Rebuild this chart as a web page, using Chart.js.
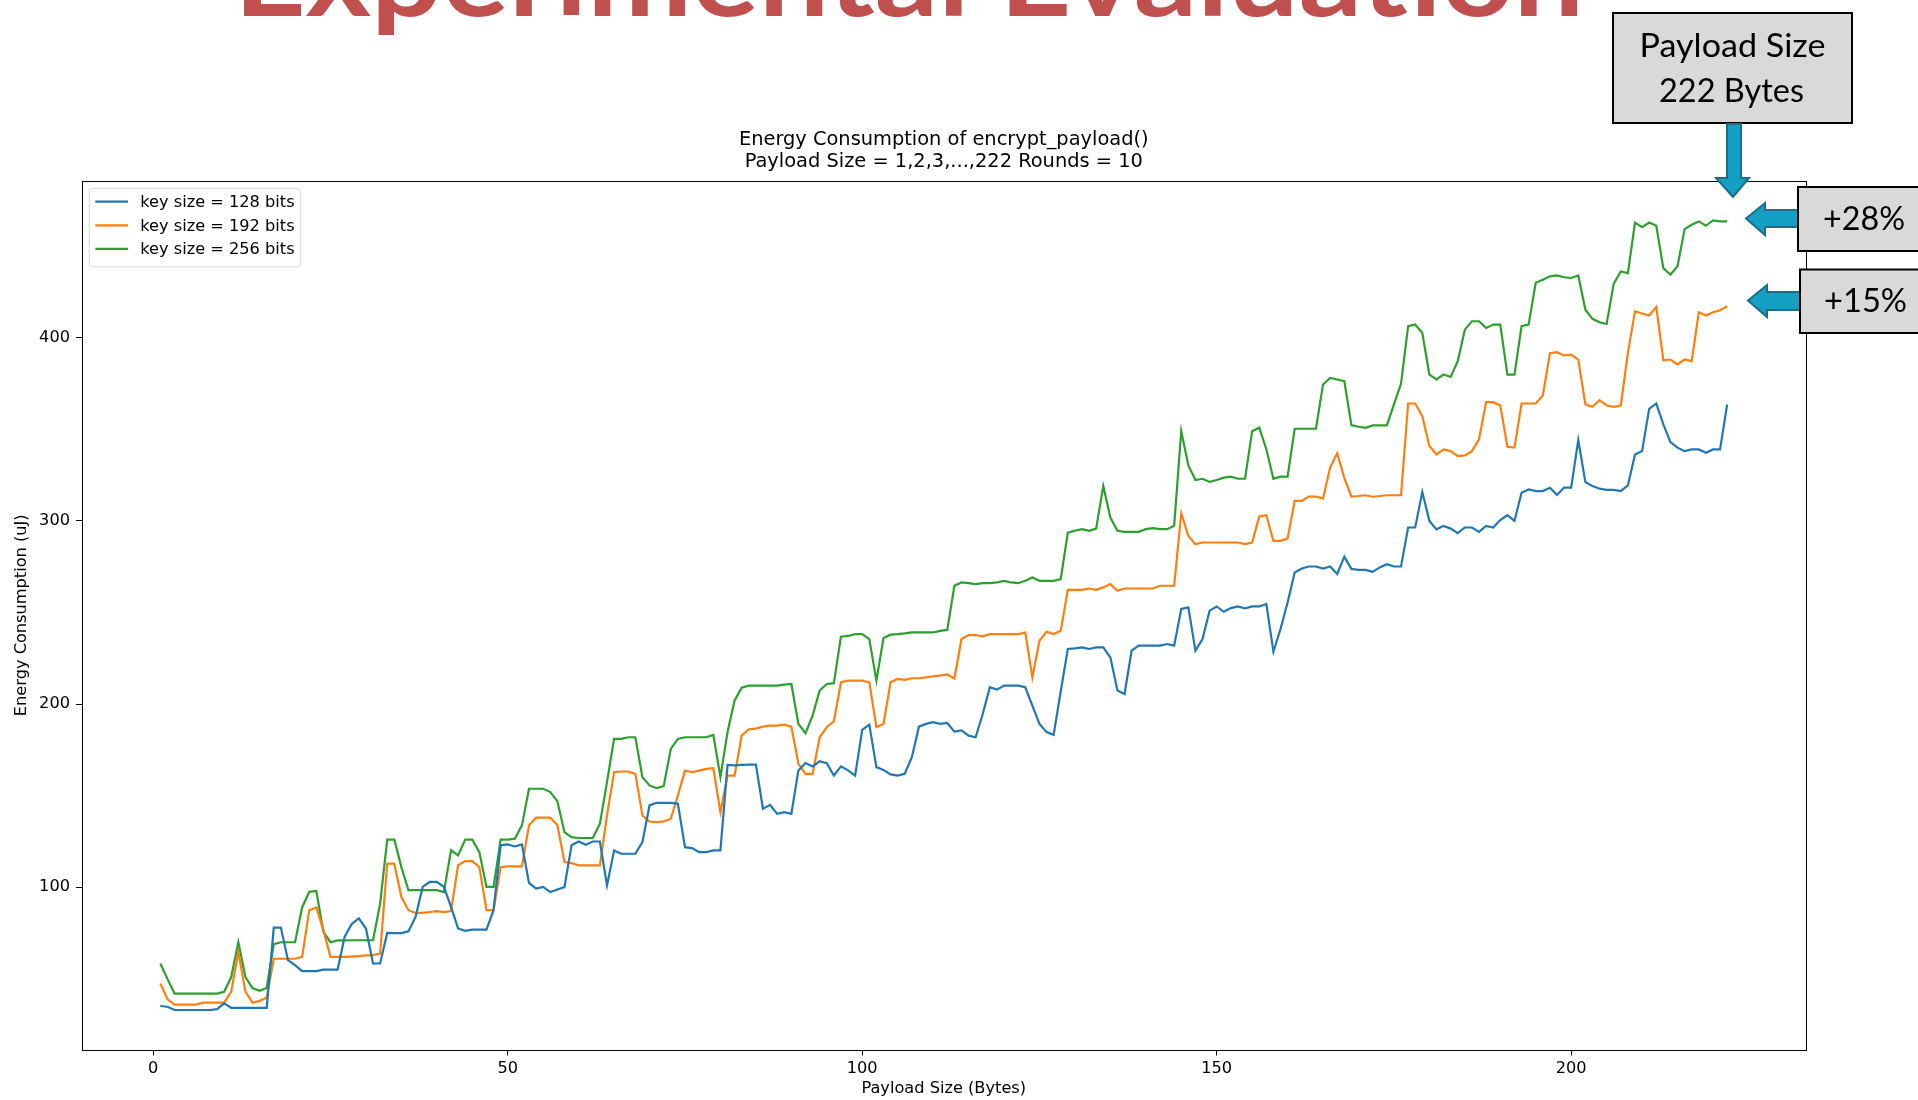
<!DOCTYPE html>
<html>
<head>
<meta charset="utf-8">
<script src="https://cdn.jsdelivr.net/npm/chart.js@4.4.0/dist/chart.umd.min.js"></script>
<style>
  html, body { margin: 0; padding: 0; background: #fff; }
  #wrap { position: relative; width: 1918px; height: 1100px; overflow: hidden; background: #fff; }
  #c { position: absolute; left: 0; top: 0; }
  #overlay { position: absolute; left: 0; top: 0; }
</style>
</head>
<body>
<div id="wrap">
  <canvas id="c" width="1918" height="1100"></canvas>
  <svg id="overlay" width="1918" height="1100" xmlns="http://www.w3.org/2000/svg">
    <text x="234" y="16" textLength="1350" lengthAdjust="spacingAndGlyphs" font-family="Lato" font-weight="bold" font-size="112" fill="#C0504D">Experimental Evaluation</text>
    <!-- Payload box -->
    <rect x="1613" y="13" width="239" height="110" fill="#D9D9D9" stroke="#000" stroke-width="2"/>
    <text x="1732.5" y="57" text-anchor="middle" font-family="Lato" font-size="33" fill="#000" textLength="186" lengthAdjust="spacingAndGlyphs">Payload Size</text>
    <text x="1731.5" y="102" text-anchor="middle" font-family="Lato" font-size="33" fill="#000" textLength="145" lengthAdjust="spacingAndGlyphs">222 Bytes</text>
    <!-- down arrow -->
    <polygon points="1727,124 1741,124 1741,178 1749,178 1733,197 1716,178 1727,178" fill="#13A0C4" stroke="#1A6F86" stroke-width="2"/>
    <!-- +28% -->
    <polygon points="1798,210 1765,210 1765,203 1746,218.5 1765,235 1765,227 1798,227" fill="#13A0C4" stroke="#1A6F86" stroke-width="2"/>
    <rect x="1798" y="187" width="130" height="64" fill="#D9D9D9" stroke="#000" stroke-width="2"/>
    <text x="1864" y="230" text-anchor="middle" font-family="Lato" font-size="32" fill="#000" textLength="82" lengthAdjust="spacingAndGlyphs">+28%</text>
    <!-- +15% -->
    <polygon points="1800,292 1767,292 1767,285 1748,300.5 1767,317 1767,310 1800,310" fill="#13A0C4" stroke="#1A6F86" stroke-width="2"/>
    <rect x="1800" y="269.5" width="130" height="63.5" fill="#D9D9D9" stroke="#000" stroke-width="2"/>
    <text x="1865.5" y="312" text-anchor="middle" font-family="Lato" font-size="32" fill="#000" textLength="83" lengthAdjust="spacingAndGlyphs">+15%</text>
  </svg>
</div>
<script>
const payloadSize = Array.from({length: 222}, (_, i) => i + 1);

const key128 = [
  35.2, 34.8, 33, 33, 33, 33, 33, 33, 33.5, 36.6,
  34.2, 34.2, 34.2, 34.2, 34.2, 34.2, 78, 78, 60.2, 57.5,
  54.2, 54.2, 54.2, 55, 55, 55, 73, 80, 83, 77.5,
  58.4, 58.4, 75.1, 75, 75, 76, 83.8, 100.2, 102.9, 102.9,
  100.2, 89.3, 77.5, 76.2, 76.9, 76.9, 76.9, 87.5, 122.9, 123.4,
  122.3, 123.4, 102.4, 99.3, 100.2, 97.4, 98.8, 100.1, 122.9, 125,
  123.2, 125, 125, 101, 120.1, 118.3, 118.3, 118.3, 124.7, 144.7,
  146.1, 146.1, 146.1, 145.6, 121.9, 121.4, 119.2, 119.2, 120.1, 120.1,
  166.8, 166.5, 166.8, 167, 167, 142.9, 145, 140.1, 141, 140.1,
  163.8, 167.8, 166, 168.8, 167.8, 161, 166, 163.8, 161, 185.9,
  188.8, 165.6, 164.1, 161.6, 161, 162, 171, 187.7, 189.2, 190.1,
  189.2, 189.7, 185, 185.6, 182.8, 181.9, 194.6, 209.2, 207.9, 210.1,
  210.1, 210.1, 209.2, 199.2, 189.2, 184.7, 183.2, 207, 230.1, 230.4,
  231, 230.1, 231, 231, 225.5, 207.4, 205.5, 229.2, 231.9, 231.9,
  231.9, 231.9, 232.8, 231.9, 251.9, 252.8, 229.2, 235.5, 251, 253.3,
  250.4, 252.4, 253.3, 252.2, 253.3, 253.3, 254.6, 228.6, 241, 255.5,
  271.8, 274, 275.1, 275.1, 274, 275.1, 271, 280.5, 273.8, 273.3,
  273.3, 272.2, 274.6, 276.4, 275.1, 275.1, 296.4, 296.4, 315.8, 300,
  295.4, 297.3, 295.8, 293.3, 296.4, 296.4, 294, 297.3, 296.4, 300.5,
  303.1, 300, 315.4, 317.2, 316.3, 316.3, 318.1, 314.2, 318.2, 318.2,
  344.1, 321.2, 319, 317.6, 316.9, 316.9, 316.3, 319.4, 336.3, 338.1,
  361.2, 364.1, 352.7, 343, 340, 338.1, 339, 339, 337.2, 339,
  339, 363.6
];

const key192 = [
  47.5, 39, 36, 36, 36, 36, 37, 37, 37, 37,
  43, 64.8, 43, 37, 38, 39.7, 61, 61, 61, 61,
  62, 87.5, 89, 76.6, 62, 62, 62, 62.2, 62.4, 62.8,
  63, 63.8, 112.9, 112.9, 94.7, 87.5, 86, 86, 86.5, 87,
  86.5, 87, 112, 114.3, 114.3, 111, 87.5, 87.5, 111, 111.4,
  111.4, 111.4, 133.8, 138, 138, 138, 134, 113.8, 113.2, 112,
  112, 112, 112, 139.2, 162.8, 163.2, 163.2, 161.9, 139.2, 135.9,
  135.6, 135.9, 137.4, 150.1, 163.7, 162.8, 163.7, 164.6, 165, 141,
  161, 161, 182.8, 186.3, 186.6, 187.7, 188.3, 188.3, 188.8, 187.7,
  167.4, 161.9, 161.9, 181.9, 187.4, 190.6, 211.9, 212.8, 212.8, 212.8,
  211.9, 187.4, 189.2, 211.9, 213.7, 213.2, 214.1, 214.1, 214.6, 215.2,
  215.5, 216.2, 214, 235.5, 237.7, 237.7, 237, 238.2, 238.2, 238.2,
  238.2, 238.2, 239.1, 214.6, 234.6, 239.5, 238.2, 240, 262.4, 262.4,
  262.4, 263.1, 262.4, 263.7, 265.5, 261.9, 263.1, 263.1, 263.1, 263.1,
  263.1, 264.6, 264.6, 264.6, 304.2, 291.8, 287.3, 288.2, 288.2, 288.2,
  288.2, 288.2, 288.2, 287.3, 288.2, 302.4, 303.1, 289.1, 289.1, 290.4,
  310.9, 310.9, 313.3, 313.3, 312.2, 329.1, 336.9, 323.5, 313.3, 313.6,
  314, 313.2, 313.6, 314, 314, 314, 364.1, 364.1, 357.2, 340.9,
  336.3, 339, 338.1, 335.4, 335.8, 338.1, 344.5, 364.8, 364.8, 363,
  340.5, 340, 364.1, 364.1, 364.1, 368.5, 391.5, 392.1, 390.3, 390.8,
  388.1, 363.6, 362.3, 365.9, 363, 362.3, 363, 391.7, 414.4, 413.2,
  412.1, 416.8, 387.7, 388.1, 385.4, 388.1, 387.2, 413.9, 412.1, 413.9,
  415, 417.2
];

const key256 = [
  58.4, 50, 42, 42, 42, 42, 42, 42, 42, 43,
  51, 70, 51, 45, 43.5, 45, 69, 70, 70, 70,
  89, 97.5, 98, 75.6, 70, 71, 71, 71.1, 71.1, 71.1,
  71.1, 91.1, 126, 126, 111, 98.4, 98.4, 98.4, 98.4, 98.4,
  97.4, 120.2, 117.4, 126, 126, 119.2, 100.2, 100.2, 126, 126,
  126.5, 133.8, 153.8, 153.8, 153.8, 152, 147, 130.1, 127.4, 126.9,
  126.9, 126.9, 134.7, 157.4, 181, 181, 181.9, 181.9, 160.1, 155.6,
  154.1, 155.2, 175.5, 181, 181.9, 181.9, 181.9, 181.9, 183.2, 160.1,
  184.6, 202, 209, 210.1, 210.1, 210.1, 210.1, 210.1, 210.6, 211,
  189.2, 184.1, 193.7, 207.4, 211, 211.4, 236.8, 237.2, 238.2, 238.2,
  235.5, 212.8, 236.1, 237.9, 238.2, 238.6, 239.1, 239.1, 239.1, 239.1,
  240, 240.5, 264.6, 266.4, 266, 265.5, 266, 266, 266.4, 267.3,
  266.4, 266, 267.3, 269.1, 267.3, 267.3, 267.3, 268.2, 293.6, 294.6,
  295.5, 294.6, 295.8, 319.1, 301.8, 294.6, 294, 294, 294, 295.5,
  296.1, 295.5, 295.5, 297.3, 349, 330.3, 322.3, 323, 321.3, 322.3,
  323.6, 324.2, 323, 323, 349, 350.9, 339.1, 323, 324.2, 324.2,
  350.3, 350.3, 350.3, 350.3, 374.5, 378.1, 377.2, 376.3, 352.3, 351.4,
  350.8, 352.1, 352.1, 352.1, 363.6, 375, 406.3, 407.2, 402.6, 379.9,
  377.2, 379.9, 378.6, 387.2, 404.4, 409, 409, 405.3, 407.2, 407.2,
  379.9, 379.9, 406.3, 407.2, 430, 431.7, 433.5, 434, 433, 432.6,
  434, 415.3, 410.3, 408.4, 407.5, 429.5, 436.2, 435.3, 462.9, 460.4,
  462.9, 461.1, 438, 434.4, 439, 459.3, 461.7, 463.5, 461.1, 464,
  463.5, 463.5
];

const seriesLabels = ['key size = 128 bits', 'key size = 192 bits', 'key size = 256 bits'];
const seriesColors = ['#1f77b4', '#ff7f0e', '#2ca02c'];
const xTickValues = [0, 50, 100, 150, 200];
const yTickValues = [100, 200, 300, 400];
const titleLines = ['Energy Consumption of encrypt_payload()', 'Payload Size = 1,2,3,...,222 Rounds = 10'];
const xAxisLabel = 'Payload Size (Bytes)';
const yAxisLabel = 'Energy Consumption (uJ)';

const FONT = "'DejaVu Sans', sans-serif";
const SMALL = 16.2;
const TITLE_SIZE = 19.4;
const toPoints = vals => vals.map((v, i) => ({x: payloadSize[i], y: v}));

const framePlugin = {
  id: 'frame',
  afterDatasetsDraw(chart) {
    const {ctx, chartArea: a} = chart;
    ctx.save();
    ctx.strokeStyle = '#000';
    ctx.lineWidth = 1;
    ctx.strokeRect(Math.round(a.left) + 0.5, Math.round(a.top) + 0.5, Math.round(a.right - a.left), Math.round(a.bottom - a.top));
    ctx.restore();
  }
};

const axesTitlePlugin = {
  id: 'axesTitle',
  afterDraw(chart) {
    const {ctx, chartArea: a} = chart;
    const cx = (a.left + a.right) / 2;
    ctx.save();
    ctx.fillStyle = '#000';
    ctx.font = TITLE_SIZE + 'px ' + FONT;
    ctx.textAlign = 'center';
    ctx.textBaseline = 'middle';
    titleLines.forEach((t, i) => ctx.fillText(t, cx, a.top - 41.5 + i * 22));
    ctx.restore();
  }
};

const legendPlugin = {
  id: 'mplLegend',
  afterDraw(chart) {
    const {ctx, chartArea: a} = chart;
    const x0 = a.left + 7.3, y0 = a.top + 7.3, w = 211, h = 78.5;
    ctx.save();
    ctx.beginPath();
    ctx.roundRect(x0, y0, w, h, 3);
    ctx.fillStyle = 'rgba(255,255,255,0.8)';
    ctx.fill();
    ctx.strokeStyle = '#d6d6d6';
    ctx.lineWidth = 1;
    ctx.stroke();
    chart.data.datasets.forEach((ds, i) => {
      const cy = y0 + 13.4 + i * 23.6;
      ctx.beginPath();
      ctx.moveTo(x0 + 6, cy);
      ctx.lineTo(x0 + 38.7, cy);
      ctx.strokeStyle = ds.borderColor;
      ctx.lineWidth = 2.2;
      ctx.stroke();
      ctx.fillStyle = '#000';
      ctx.font = SMALL + 'px ' + FONT;
      ctx.textBaseline = 'middle';
      ctx.textAlign = 'left';
      ctx.fillText(ds.label, x0 + 51, cy + 1);
    });
    ctx.restore();
  }
};

new Chart(document.getElementById('c'), {
  type: 'line',
  data: {
    datasets: [key128, key192, key256].map((vals, i) => ({
      label: seriesLabels[i],
      data: toPoints(vals),
      borderColor: seriesColors[i],
      backgroundColor: seriesColors[i],
      borderWidth: 2.2,
      pointRadius: 0,
      tension: 0,
      fill: false
    }))
  },
  options: {
    responsive: false,
    animation: false,
    devicePixelRatio: 1,
    layout: { padding: { left: 0, right: 112.5, top: 181, bottom: 0 } },
    plugins: {
      legend: { display: false },
      tooltip: { enabled: false },
      title: { display: false }
    },
    scales: {
      x: {
        type: 'linear',
        min: -10.05,
        max: 233.05,
        afterBuildTicks: s => { s.ticks = xTickValues.map(v => ({value: v})); },
        afterFit: s => { s.height = 50.5; },
        ticks: { color: '#000', font: { family: FONT, size: SMALL }, padding: 4, autoSkip: false, maxRotation: 0 },
        grid: { display: true, drawOnChartArea: false, drawTicks: true, tickLength: 6, color: '#000' },
        border: { display: false },
        title: { display: true, text: xAxisLabel, color: '#000', font: { family: FONT, size: SMALL }, padding: { top: 0, bottom: 1 } }
      },
      y: {
        type: 'linear',
        min: 11.45,
        max: 485.55,
        afterBuildTicks: s => { s.ticks = yTickValues.map(v => ({value: v})); },
        afterFit: s => { s.width = 82; },
        ticks: { color: '#000', font: { family: FONT, size: SMALL }, padding: 6, autoSkip: false },
        grid: { display: true, drawOnChartArea: false, drawTicks: true, tickLength: 6, color: '#000' },
        border: { display: false },
        title: { display: true, text: yAxisLabel, color: '#000', font: { family: FONT, size: SMALL }, padding: { top: 12.5, bottom: 0 } }
      }
    }
  },
  plugins: [framePlugin, axesTitlePlugin, legendPlugin]
});
</script>
</body>
</html>
